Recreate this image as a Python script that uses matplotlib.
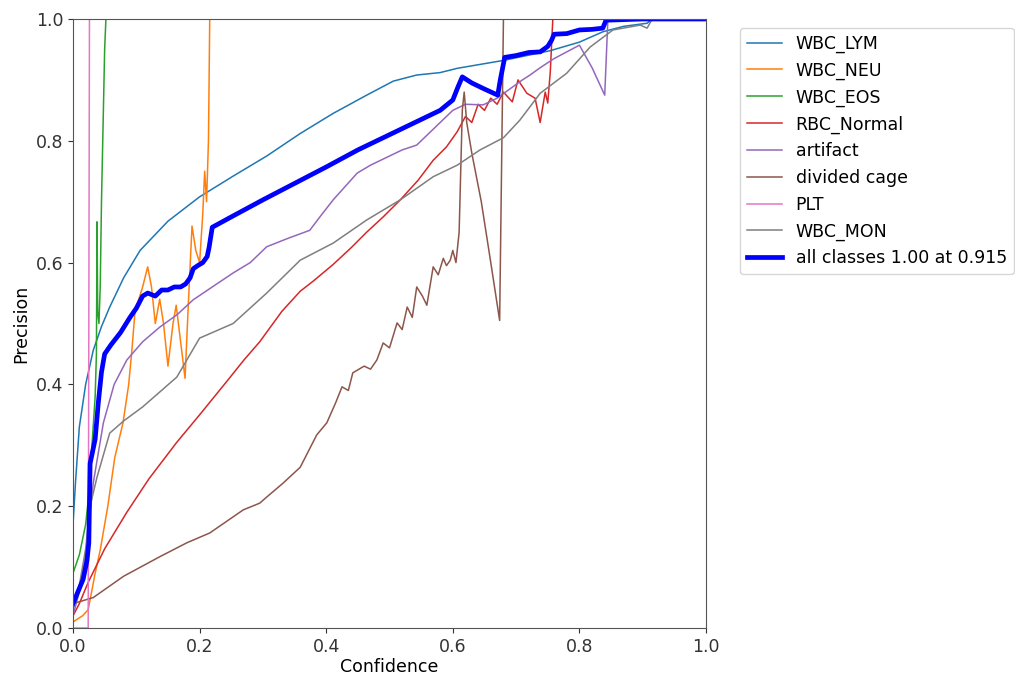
import matplotlib
matplotlib.use("Agg")
import matplotlib.pyplot as plt

# ---- data ----
class_names = ["WBC_LYM", "WBC_NEU", "WBC_EOS", "RBC_Normal", "artifact",
               "divided cage", "PLT", "WBC_MON"]

lym_x = [0, 0.004, 0.01, 0.02, 0.032, 0.045, 0.058, 0.08, 0.106, 0.15, 0.2, 0.253,
         0.306, 0.359, 0.411, 0.464, 0.506, 0.543, 0.58, 0.607, 0.68, 0.754, 0.8,
         0.837, 0.87, 0.907, 0.915, 1.0]
lym_y = [0.17, 0.24, 0.33, 0.40, 0.456, 0.495, 0.527, 0.575, 0.62, 0.668, 0.708, 0.742,
         0.775, 0.812, 0.845, 0.875, 0.898, 0.908, 0.912, 0.919, 0.932, 0.948, 0.962,
         0.979, 0.988, 0.993, 1.0, 1.0]

neu_x = [0.0, 0.015, 0.024, 0.035, 0.043, 0.055, 0.066, 0.079, 0.088, 0.093, 0.098,
         0.11, 0.118, 0.124, 0.13, 0.137, 0.143, 0.15, 0.158, 0.163, 0.17, 0.177,
         0.183, 0.188, 0.194, 0.2, 0.205, 0.208, 0.211, 0.214, 0.216, 1.0]
neu_y = [0.01, 0.02, 0.03, 0.09, 0.128, 0.2, 0.28, 0.337, 0.4, 0.456, 0.52,
         0.56, 0.593, 0.56, 0.5, 0.54, 0.5, 0.43, 0.5, 0.53, 0.47, 0.41,
         0.55, 0.66, 0.62, 0.6, 0.68, 0.75, 0.7, 0.8, 1.0, 1.0]

eos_x = [0, 0.01, 0.02, 0.025, 0.03, 0.035, 0.037, 0.038, 0.039, 0.041, 0.043,
         0.045, 0.048, 0.05, 0.052, 1.0]
eos_y = [0.09, 0.12, 0.17, 0.22, 0.30, 0.38, 0.45, 0.667, 0.52, 0.5, 0.56,
         0.7, 0.85, 0.95, 1.0, 1.0]

rbc_x = [0, 0.01, 0.024, 0.05, 0.085, 0.12, 0.164, 0.2, 0.243, 0.27, 0.295, 0.33, 0.359,
         0.38, 0.411, 0.44, 0.464, 0.49, 0.517, 0.545, 0.569, 0.59, 0.607, 0.62,
         0.63, 0.64, 0.65, 0.66, 0.67, 0.68, 0.694, 0.703, 0.717, 0.73, 0.738,
         0.746, 0.75, 0.754, 0.758, 1.0]
rbc_y = [0.02, 0.04, 0.075, 0.13, 0.19, 0.245, 0.305, 0.35, 0.405, 0.44, 0.47, 0.52, 0.553,
         0.57, 0.597, 0.625, 0.65, 0.675, 0.703, 0.735, 0.768, 0.79, 0.815, 0.84,
         0.83, 0.86, 0.85, 0.87, 0.86, 0.88, 0.864, 0.9, 0.878, 0.87, 0.83,
         0.88, 0.862, 0.913, 1.0, 1.0]

art_x = [0, 0.01, 0.02, 0.032, 0.048, 0.065, 0.085, 0.11, 0.137, 0.165, 0.19, 0.22,
         0.253, 0.28, 0.306, 0.34, 0.374, 0.39, 0.411, 0.43, 0.449, 0.47, 0.496,
         0.52, 0.543, 0.57, 0.6, 0.62, 0.648, 0.67, 0.69, 0.71, 0.722, 0.738, 0.76,
         0.78, 0.8, 0.82, 0.84, 0.845, 1.0]
art_y = [0.02, 0.06, 0.12, 0.238, 0.337, 0.4, 0.44, 0.47, 0.494, 0.515, 0.539, 0.56,
         0.583, 0.6, 0.626, 0.64, 0.653, 0.675, 0.703, 0.725, 0.747, 0.76, 0.773,
         0.785, 0.793, 0.82, 0.85, 0.86, 0.859, 0.87, 0.885, 0.9, 0.908, 0.92, 0.935,
         0.946, 0.957, 0.92, 0.875, 1.0, 1.0]

cage_x = [0, 0.032, 0.08, 0.137, 0.18, 0.216, 0.269, 0.295, 0.306, 0.332, 0.359, 0.385,
          0.401, 0.415, 0.425, 0.435, 0.442, 0.46, 0.47, 0.48, 0.49, 0.5, 0.512, 0.52,
          0.528, 0.536, 0.543, 0.552, 0.559, 0.569, 0.577, 0.585, 0.59, 0.596, 0.6,
          0.605, 0.61, 0.615, 0.618, 0.622, 0.63, 0.645, 0.66, 0.674, 0.68, 1.0]
cage_y = [0.04, 0.05, 0.085, 0.117, 0.14, 0.156, 0.194, 0.205, 0.215, 0.238, 0.264, 0.317,
          0.337, 0.37, 0.396, 0.39, 0.419, 0.43, 0.425, 0.44, 0.468, 0.46, 0.501, 0.49,
          0.527, 0.51, 0.56, 0.545, 0.53, 0.593, 0.58, 0.607, 0.595, 0.604, 0.62,
          0.6, 0.65, 0.85, 0.88, 0.83, 0.78, 0.7, 0.6, 0.505, 1.0, 1.0]

plt_x = [0, 0.024, 0.026, 1.0]
plt_y = [0.0, 0.0, 1.0, 1.0]

mon_x = [0, 0.01, 0.02, 0.027, 0.038, 0.058, 0.08, 0.11, 0.164, 0.2, 0.253, 0.306,
         0.359, 0.411, 0.464, 0.517, 0.569, 0.607, 0.643, 0.68, 0.706, 0.738, 0.78,
         0.817, 0.853, 0.896, 0.907, 0.915, 1.0]
mon_y = [0.03, 0.07, 0.13, 0.2, 0.248, 0.32, 0.34, 0.363, 0.412, 0.476, 0.5, 0.55,
         0.604, 0.632, 0.67, 0.703, 0.741, 0.76, 0.785, 0.805, 0.834, 0.878, 0.911,
         0.954, 0.982, 0.99, 0.985, 1.0, 1.0]

all_x = [0, 0.008, 0.016, 0.022, 0.025, 0.027, 0.031, 0.035, 0.04, 0.045, 0.05, 0.06,
         0.075, 0.09, 0.1, 0.11, 0.118, 0.13, 0.14, 0.15, 0.16, 0.17, 0.178, 0.185,
         0.19, 0.197, 0.205, 0.212, 0.215, 0.22, 0.25, 0.3, 0.35, 0.4, 0.45, 0.5,
         0.55, 0.58, 0.6, 0.608, 0.615, 0.63, 0.65, 0.671, 0.675, 0.682, 0.7, 0.72,
         0.738, 0.75, 0.756, 0.76, 0.78, 0.8, 0.82, 0.837, 0.842, 0.9, 1.0]
all_y = [0.04, 0.06, 0.08, 0.11, 0.14, 0.27, 0.29, 0.31, 0.37, 0.42, 0.45, 0.465,
         0.485, 0.51, 0.525, 0.545, 0.55, 0.545, 0.555, 0.555, 0.56, 0.56, 0.565, 0.575,
         0.59, 0.595, 0.6, 0.61, 0.625, 0.658, 0.675, 0.703, 0.73, 0.757, 0.785, 0.81,
         0.835, 0.85, 0.867, 0.888, 0.905, 0.895, 0.885, 0.875, 0.9, 0.937, 0.94, 0.945,
         0.946, 0.955, 0.965, 0.975, 0.976, 0.982, 0.983, 0.985, 0.998, 1.0, 1.0]
all_label = "all classes 1.00 at 0.915"

series = [(lym_x, lym_y), (neu_x, neu_y), (eos_x, eos_y), (rbc_x, rbc_y),
          (art_x, art_y), (cage_x, cage_y), (plt_x, plt_y), (mon_x, mon_y)]

# ---- plot ----
plt.rcParams["font.family"] = ["DejaVu Sans"]
plt.rcParams["font.size"] = 12.5

fig = plt.figure(figsize=(10.15, 6.79), dpi=100)
ax = fig.add_axes([73 / 1015, 51 / 679, 633 / 1015, 609 / 679])

for i, (name, (xs, ys)) in enumerate(zip(class_names, series)):
    ax.plot(xs, ys, linewidth=1.1, color=f"C{i}", label=name)
ax.plot(all_x, all_y, linewidth=3.4, color="blue", label=all_label)

ax.set_xlim(0, 1)
ax.set_ylim(0, 1)
ax.set_xlabel("Confidence", labelpad=2)
ax.set_ylabel("Precision")
for s in ax.spines.values():
    s.set_color("#555555")
ax.tick_params(colors="#333333")
ax.legend(bbox_to_anchor=(1.04, 1), loc="upper left", fontsize=12.5,
          handlelength=2.0)

fig.savefig("out.png", dpi=100)
